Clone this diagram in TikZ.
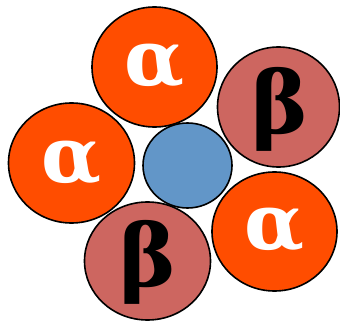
\documentclass[tikz,border=0pt]{standalone}
\usepackage{fontspec}
\newfontfamily\greekfont{DejaVu Serif}
\definecolor{alphac}{RGB}{255,77,0}
\definecolor{betac}{RGB}{205,102,96}
\definecolor{bluec}{RGB}{98,150,200}
\begin{document}
\begin{tikzpicture}[x=1pt,y=-1pt,
  ball/.style={draw=black,line width=1.6pt},
  alphaball/.style={ball,fill=alphac},
  betaball/.style={ball,fill=betac},
  alphaglyph/.style={font=\fontsize{78}{78}\selectfont\greekfont\bfseries,inner sep=0pt,text=white},
  betaglyph/.style={font=\fontsize{86}{86}\selectfont\greekfont\bfseries,inner sep=0pt,text=black}]
\useasboundingbox (0,0) rectangle (340,321);
\filldraw[alphaball] (154.5,67) ellipse [x radius=62.5, y radius=60];
\node[alphaglyph] (a1) at (155,66) {α};
\filldraw[betaball] (278.5,107) ellipse [x radius=61, y radius=60];
\node[betaglyph] (b1) at (280,109) {β};
\filldraw[alphaball] (71.5,163) ellipse [x radius=63, y radius=60];
\node[alphaglyph] (a2) at (72,163) {α};
\filldraw[ball,fill=bluec] (187.5,165.5) ellipse [x radius=44.5, y radius=42.5];
\filldraw[alphaball] (274.5,231.5) ellipse [x radius=62.5, y radius=59.5];
\node[alphaglyph] (a3) at (275,230) {α};
\filldraw[betaball] (147.5,261) ellipse [x radius=63, y radius=59];
\node[betaglyph] (b2) at (148,262) {β};
\end{tikzpicture}
\end{document}
